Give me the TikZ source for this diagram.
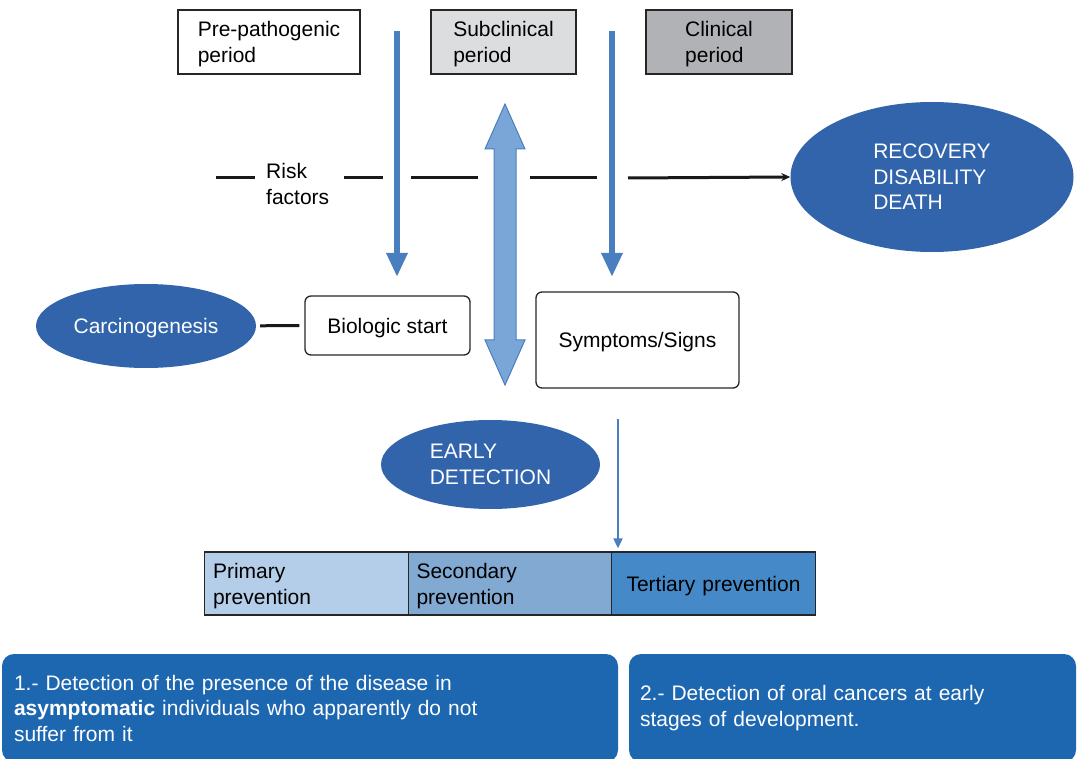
\documentclass[tikz,border=0pt]{standalone}
\usepackage{fontspec}
\setmainfont{Liberation Sans}
\usetikzlibrary{arrows.meta,shapes.geometric}
\definecolor{ellblue}{HTML}{3264AC}
\definecolor{arrblue}{HTML}{4A7FBF}
\definecolor{dblblue}{HTML}{79A6D6}
\definecolor{boxblue}{HTML}{1D67B0}
\definecolor{subgray}{HTML}{DCDDDF}
\definecolor{clingray}{HTML}{B1B2B5}
\definecolor{primfill}{HTML}{B4CDE8}
\definecolor{secfill}{HTML}{82A9D2}
\definecolor{terfill}{HTML}{4589C8}
\tikzset{
  every node/.style={font=\fontsize{21}{25.5}\selectfont, inner sep=0},
  period/.style={draw=black!85, line width=1.3, minimum height=64, align=left, text depth=0},
  blob/.style={ellipse, fill=ellblue, text=white, align=left},
  rbox/.style={draw=black!85, line width=1.3, rounded corners=6, text depth=0},
  prevbox/.style={draw=black!85, line width=1.3, minimum width=203.5, minimum height=63, text width=187, align=left, text depth=25},
  infobox/.style={fill=boxblue, rounded corners=12, text=white, align=left},
  riskline/.style={line width=3, black!90},
  bluearrow/.style={draw=arrblue, line width=6, -{Triangle[width=20,length=24]}},
  thinarrow/.style={draw=arrblue, line width=2, -{Triangle[width=9,length=10]}}
}

\begin{document}
\begin{tikzpicture}[x=1pt,y=-1pt]
  %%%%% START %%%%%
  \useasboundingbox (0,0) rectangle (1077,759);
  \def\ry{178}

  % periods
  \node[period, minimum width=182] (prepat) at (269,42) {Pre-pathogenic\\period};
  \node[period, minimum width=145, fill=subgray] (subclin) at (503.5,42) {Subclinical\\period};
  \node[period, minimum width=146, fill=clingray] (clin) at (719,42) {Clinical\\period};

  % outcome and stages
  \node[blob, minimum width=283, minimum height=150] (recov) at (932,177) {RECOVERY\\DISABILITY\\DEATH};
  \node[blob, minimum width=220, minimum height=84, text depth=0] (carc) at (146,326) {Carcinogenesis};
  \node[rbox, minimum width=165, minimum height=59] (bio) at (387.5,325.5) {Biologic start};
  \node[rbox, minimum width=203, minimum height=96] (sympt) at (637.5,340) {Symptoms/Signs};
  \node[blob, minimum width=219, minimum height=89] (early) at (490.5,464.5) {EARLY\\DETECTION};

  % risk factors line
  \node[anchor=west, align=left] (risk) at (266,184) {Risk\\factors};
  \draw[riskline] (216,\ry) -- (255,\ry);
  \draw[riskline] (344,\ry) -- (383,\ry);
  \draw[riskline] (411,\ry) -- (478,\ry);
  \draw[riskline] (530,\ry) -- (597,\ry);
  \draw[riskline, -{Stealth[length=9,width=8]}] (628,\ry) -- (recov.west);
  \draw[riskline, shorten <=4, shorten >=5] (carc) -- (bio);

  % period arrows
  \coordinate (pa) at (397,31);
  \coordinate (pb) at (397,277);
  \coordinate (ca) at (612,31);
  \coordinate (cb) at (612,277);
  \draw[bluearrow] (pa) -- (pb);
  \draw[bluearrow] (ca) -- (cb);

  % double arrow
  \draw[draw=arrblue, fill=dblblue, line width=1, shift={(505,104)}]
    (0,0) -- (20,45) -- (11,45) -- (11,236) -- (20,236) -- (0,281)
    -- (-20,236) -- (-11,236) -- (-11,45) -- (-20,45) -- cycle;

  % prevention
  \node[prevbox, fill=primfill] (prim) at (306.5,583.5) {Primary\\prevention};
  \node[prevbox, fill=secfill] (sec) at (510,583.5) {Secondary\\prevention};
  \node[prevbox, fill=terfill, align=center, text depth=0] (ter) at (713.5,583.5) {Tertiary prevention};
  \coordinate (ta) at (618,419);
  \draw[thinarrow, shorten >=3] (ta) -- (ta |- ter.north);

  % notes
  \node[infobox, minimum width=616, minimum height=108, text width=592] (note1) at (310,708)
    {1.- Detection of the presence of the disease in\\\textbf{asymptomatic} individuals who apparently do not\\suffer from it};
  \node[infobox, minimum width=447, minimum height=108, text width=425] (note2) at (852.5,708)
    {2.- Detection of oral cancers at early\\stages of development.};
  %%%%% END %%%%%
\end{tikzpicture}
\end{document}
